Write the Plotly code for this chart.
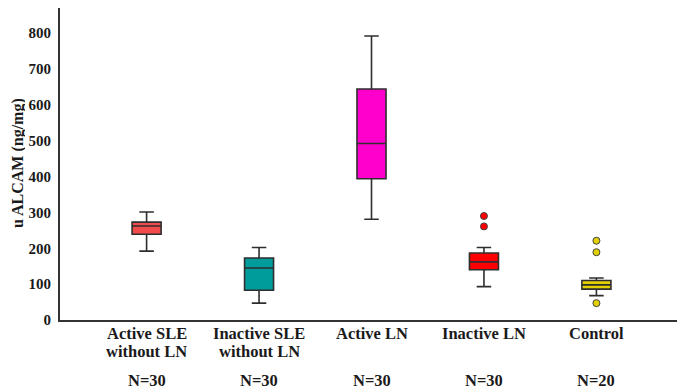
import plotly.graph_objects as go

categories = ["Active SLE without LN", "Inactive SLE without LN", "Active LN", "Inactive LN", "Control"]
label_line1 = ["Active SLE", "Inactive SLE", "Active LN", "Inactive LN", "Control"]
label_line2 = ["without LN", "without LN", "", "", ""]
n_labels = ["N=30", "N=30", "N=30", "N=30", "N=20"]

lower_fence = [192, 47, 281, 93, 68]
q1_vals = [239, 83, 394, 140, 86]
median_vals = [262, 145, 492, 162, 98]
q3_vals = [273, 173, 644, 187, 110]
upper_fence = [301, 202, 792, 202, 117]
outliers = [[], [], [], [290, 261], [221, 189, 47]]

fill_colors = ["#F24B4B", "#009B9B", "#FF00CC", "#FF0000", "#E2D000"]
y_ticks = [0, 100, 200, 300, 400, 500, 600, 700, 800]

FONT = "Liberation Serif, Times New Roman, serif"

# page body has an 8px margin; figure placed at (8, 8) in the window
OFF = 8
FIG_W, FIG_H = 685 - OFF, 392 - OFF
M_L, M_R, M_T, M_B = 52, 2, 0, 72
PLOT_H = FIG_H - M_T - M_B
PLOT_W = FIG_W - M_L - M_R

def py(screen_y):
    return (PLOT_H - (screen_y - OFF - M_T)) / PLOT_H

def px(screen_x):
    return (screen_x - OFF - M_L) / PLOT_W

fig = go.Figure()
for i, cat in enumerate(categories):
    fig.add_trace(go.Box(
        x=[cat], q1=[q1_vals[i]], median=[median_vals[i]], q3=[q3_vals[i]],
        lowerfence=[lower_fence[i]], upperfence=[upper_fence[i]],
        fillcolor=fill_colors[i], line=dict(color="#2e2e2e", width=1.6),
        width=0.258, whiskerwidth=0.5, boxpoints=False, hoverinfo="skip",
    ))
    if outliers[i]:
        fig.add_trace(go.Scatter(
            x=[cat] * len(outliers[i]), y=outliers[i], mode="markers",
            marker=dict(size=7, color=fill_colors[i], line=dict(color="#444444", width=1)),
            hoverinfo="skip",
        ))

LBL = 16.5
for i, cat in enumerate(categories):
    fig.add_annotation(x=cat, xref="x", y=py(333.5), yref="paper", text="<b>%s</b>" % label_line1[i],
                       showarrow=False, xanchor="center", yanchor="middle", height=17,
                       font=dict(family=FONT, size=LBL, color="#1a1a1a"))
    if label_line2[i]:
        fig.add_annotation(x=cat, xref="x", y=py(351.5), yref="paper", text="<b>%s</b>" % label_line2[i],
                           showarrow=False, xanchor="center", yanchor="middle", height=17,
                           font=dict(family=FONT, size=LBL, color="#1a1a1a"))
    fig.add_annotation(x=cat, xref="x", y=py(391), yref="paper", text="<b>%s</b>" % n_labels[i],
                       showarrow=False, xanchor="center", yanchor="bottom", height=17,
                       font=dict(family=FONT, size=LBL, color="#1a1a1a"))

fig.add_annotation(x=px(17), xref="paper", y=py(163), yref="paper",
                   text="<b>u ALCAM (ng/mg)</b>", textangle=-90, showarrow=False,
                   xanchor="center", yanchor="middle", height=15,
                   font=dict(family=FONT, size=16, color="#1a1a1a"))

fig.update_layout(
    width=FIG_W, height=FIG_H,
    margin=dict(l=M_L, r=M_R, t=M_T, b=M_B),
    plot_bgcolor="white", paper_bgcolor="white",
    showlegend=False,
    xaxis=dict(type="category", range=[-0.77, 4.77], showticklabels=False, ticks="",
               showline=True, linecolor="#333333", linewidth=2, showgrid=False, zeroline=False),
    yaxis=dict(range=[0, 870], tickvals=y_ticks, ticktext=["<b>%d</b>" % v for v in y_ticks],
               ticks="", ticklabelstandoff=4,
               tickfont=dict(family=FONT, size=15, color="#1a1a1a"),
               showline=True, linecolor="#333333", linewidth=2, showgrid=False, zeroline=False),
)

fig.write_html("out.html")
